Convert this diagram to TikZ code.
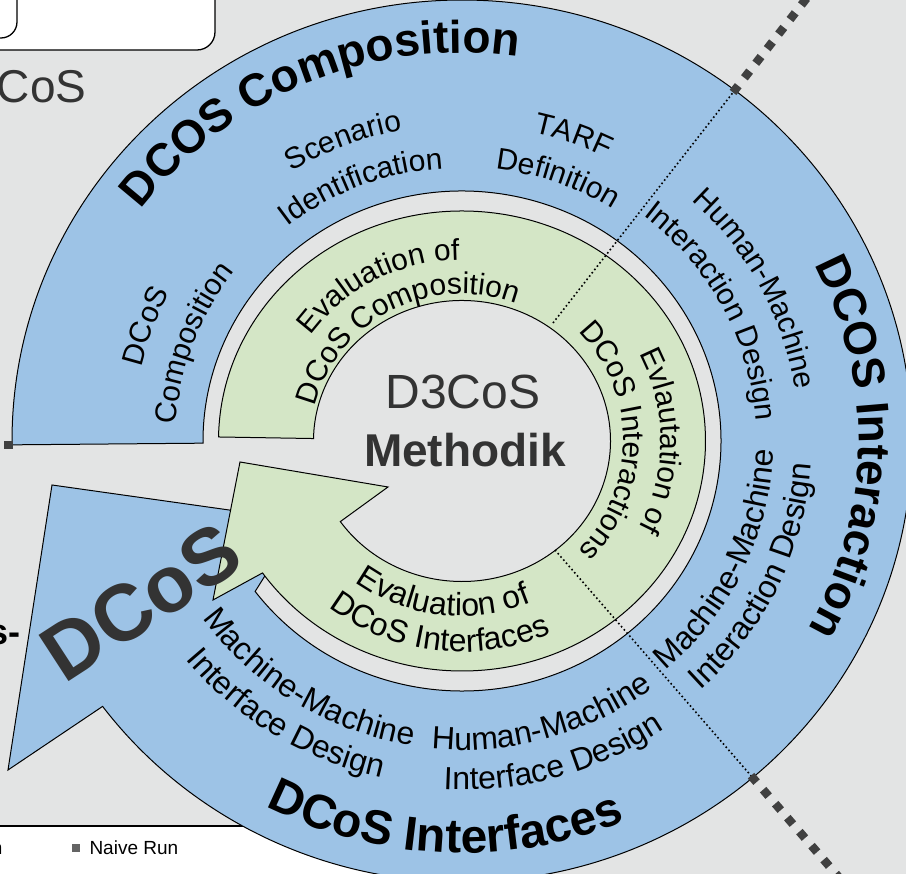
\documentclass[tikz,border=0pt]{standalone}
\usepackage{fontspec}
\setmainfont{Liberation Sans}
\usetikzlibrary{decorations.text}

\definecolor{bggray}{RGB}{227,228,228}
\definecolor{ringblue}{RGB}{157,195,230}
\definecolor{ringgreen}{RGB}{212,230,198}
\definecolor{inkgray}{RGB}{51,51,51}
\definecolor{dotgray}{RGB}{64,64,64}
\definecolor{legendgray}{RGB}{100,100,100}

\newcommand\ringfont{\bfseries\fontsize{46}{50}\selectfont}
\newcommand\lowringfont{\bfseries\fontsize{48}{52}\selectfont}
\newcommand\bandfont{\fontsize{30}{36}\selectfont}
\newcommand\lowbandfont{\fontsize{32}{38}\selectfont}

% one line of text set along an elliptic arc round the centre
% #1 font, #2 start angle, #3 end angle, #4 radius, #5 text
\newcommand\arclabel[5]{%
  \path[decorate,decoration={text along path,text align=center,text={|#1|#5}}]
    (#2:{1.03*#4} and {#4}) arc[start angle=#2,end angle=#3,
                                x radius={1.03*#4},y radius={#4}];}

\begin{document}
\begin{tikzpicture}[
    x=1pt, y=1pt,
    outline/.style={draw=black,line width=1pt},
    blueband/.style={outline,fill=ringblue},
    greenband/.style={outline,fill=ringgreen},
    divider/.style={black,line width=1.6pt,dash pattern=on 1.6pt off 2.6pt},
    border/.style={dotgray,line width=8.5pt,dash pattern=on 8.5pt off 10pt},
    boxframe/.style={draw=black,line width=1.3pt,rounded corners=18pt},
  ]

  \useasboundingbox (-462,-433) rectangle (444,441);
  \clip (-462,-433) rectangle (444,441);
  \fill[bggray] (-462,-433) rectangle (444,441);

  % --- neighbouring panels cut by the frame ---
  \draw[boxframe,fill=white] (-500,391) rectangle (-247,480);
  \draw[boxframe,rounded corners=16pt] (-500,403) rectangle (-445,480);
  \node[anchor=base east,text=inkgray,font=\fontsize{46}{50}\selectfont]
    (cos) at (-372,338) {CoS};
  \node[anchor=base east,font=\bfseries\fontsize{36}{40}\selectfont]
    (sdash) at (-438,-204) {s-};

  % --- legend strip ---
  \fill[white] (-470,-385) rectangle (-62,-440);
  \draw[line width=1.3pt] (-470,-385) -- (-62,-385);
  \node[anchor=base east,font=\fontsize{19}{22}\selectfont] (legn) at (-456,-414) {n};
  \node[fill=legendgray,minimum size=8.5pt,inner sep=0pt] (naivebox) at (-386,-407) {};
  \node[anchor=base west,font=\fontsize{19}{22}\selectfont] (naive) at (-376,-414) {Naive Run};

  % --- outer cycle: blue band with its arrow head ---
  \path[blueband] (180.5:450 and 441)
    arc[start angle=180.5,end angle=-143,x radius=450,y radius=441]
    -- (-454,-329) -- (-410,-44) -- (-162,-79)
    -- (-143:259 and 250)
    arc[start angle=-143,end angle=180.5,x radius=259,y radius=250] -- cycle;

  % --- inner cycle: green band with its arrow head ---
  \path[greenband] (179:243.5 and 230)
    arc[start angle=179,end angle=-145,x radius=243.5,y radius=230]
    -- (-249,-159) -- (-222,-21) -- (-74,-46)
    -- (-145:148.5 and 140.5)
    arc[start angle=-145,end angle=179,x radius=148.5,y radius=140.5] -- cycle;

  % --- sector borders ---
  \coordinate (upin)   at (91,118);
  \coordinate (upout)  at (273,351);
  \coordinate (upstart) at (271,348.6);
  \coordinate (upfar)  at (380,488);
  \coordinate (lowin)  at (93,-109);
  \coordinate (lowout) at (291,-337);
  \coordinate (lowstart) at (289,-334.7);
  \coordinate (lowfar) at (400,-463);
  \coordinate (leftstart) at (-449,-4);
  \coordinate (leftfar) at (-490,-4);
  \draw[divider] (upin) -- (upout);
  \draw[divider] (lowin) -- (lowout);
  \foreach \a/\b in {upstart/upfar,lowstart/lowfar,leftstart/leftfar}
    \draw[border] (\a) -- (\b);

  % --- centre ---
  \node[text=inkgray,font=\fontsize{48}{52}\selectfont] (d3cos) at (1,49) {D3CoS};
  \node[text=inkgray,font=\bfseries\fontsize{46}{50}\selectfont] (methodik) at (3,-9) {Methodik};

  % --- phase titles on the blue band ---
  \arclabel{\ringfont}{183}{43}{388}{DCOS Composition}
  \arclabel{\ringfont}{69}{-71}{385}{DCOS Interaction}
  \arclabel{\lowringfont}{-162.5}{-22.5}{412}{DCoS Interfaces}

  % --- steps on the blue band ---
  \arclabel{\bandfont}{230}{90}{320}{DCoS}
  \arclabel{\bandfont}{230}{90}{278}{Composition}
  \arclabel{\bandfont}{181.5}{41.5}{316}{Scenario}
  \arclabel{\bandfont}{181.5}{41.5}{273}{Identification}
  \arclabel{\bandfont}{140}{0}{316}{TARF}
  \arclabel{\bandfont}{140}{0}{274}{Definition}
  \arclabel{\bandfont}{97.5}{-42.5}{328}{Human-Machine}
  \arclabel{\bandfont}{97.5}{-42.5}{286}{Interaction Design}
  \arclabel{\lowbandfont}{-95}{45}{302.5}{Machine-Machine}
  \arclabel{\lowbandfont}{-95}{45}{340}{Interaction Design}
  \arclabel{\lowbandfont}{-144}{-4}{309}{Human-Machine}
  \arclabel{\lowbandfont}{-144}{-4}{349}{Interface Design}
  \arclabel{\lowbandfont}{-192.5}{-52.5}{308}{Machine-Machine}
  \arclabel{\lowbandfont}{-192.5}{-52.5}{346}{Interface Design}

  % --- evaluations on the green band ---
  \arclabel{\bandfont}{188}{48}{181}{Evaluation of}
  \arclabel{\bandfont}{188}{48}{147}{DCoS Composition}
  \arclabel{\bandfont}{70}{-70}{193}{Evlautation of}
  \arclabel{\bandfont}{70}{-70}{157}{DCoS Interactions}
  \arclabel{\lowbandfont}{-167}{-27}{175}{Evaluation of}
  \arclabel{\lowbandfont}{-167}{-27}{211}{DCoS Interfaces}

  % --- label on the outer arrow head ---
  \node[rotate=33,text=inkgray,font=\bfseries\fontsize{80}{80}\selectfont]
    (bigdcos) at (-321,-161) {DCoS};

\end{tikzpicture}
\end{document}
